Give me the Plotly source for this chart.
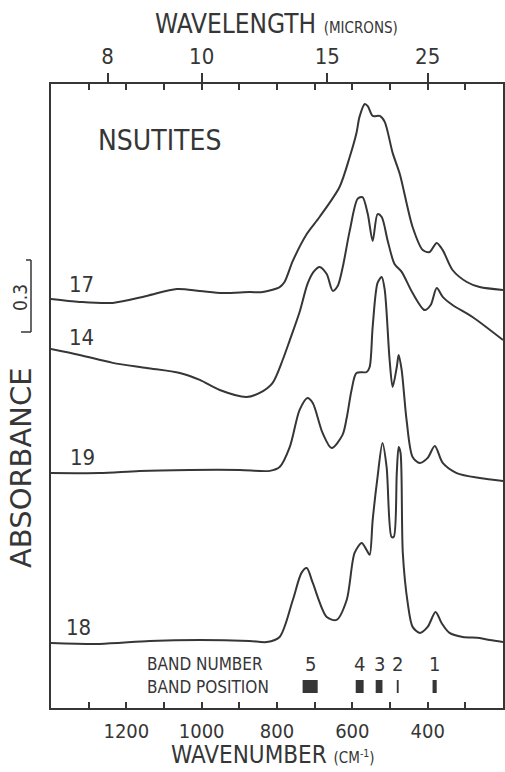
import plotly.graph_objects as go

# ---------------- data ----------------
# Wavenumber (cm-1) and stacked absorbance for each nsutite sample
wn_17 = [1400, 1324, 1236, 1146, 1066, 1005, 944, 873, 838, 793, 780, 758, 721, 687, 634, 607, 589, 581,
         567, 559, 546, 527, 514, 493, 474, 440, 413, 395, 376, 360, 334, 296, 262, 200]
ab_17 = [1.704, 1.692, 1.688, 1.717, 1.746, 1.738, 1.729, 1.733, 1.733, 1.754, 1.775, 1.863, 1.975, 2.046,
         2.171, 2.296, 2.396, 2.463, 2.517, 2.508, 2.467, 2.467, 2.442, 2.313, 2.225, 2.004, 1.908, 1.900,
         1.938, 1.908, 1.825, 1.775, 1.754, 1.742]

wn_14 = [1400, 1324, 1236, 1146, 1058, 1005, 952, 881, 846, 812, 785, 766, 740, 719, 703, 687, 668, 652,
         639, 626, 607, 586, 573, 559, 546, 533, 522, 506, 488, 469, 440, 408, 392, 376, 360, 334, 281, 200]
ab_14 = [1.496, 1.471, 1.438, 1.417, 1.396, 1.367, 1.325, 1.296, 1.313, 1.354, 1.450, 1.533, 1.650, 1.767,
         1.817, 1.838, 1.808, 1.738, 1.758, 1.833, 1.988, 2.121, 2.129, 2.058, 1.946, 2.058, 2.046, 1.946,
         1.850, 1.817, 1.729, 1.658, 1.679, 1.750, 1.713, 1.679, 1.629, 1.533]

wn_19 = [1400, 1271, 1165, 1032, 899, 819, 793, 766, 740, 719, 705, 679, 655, 626, 615, 602, 589, 562,
         554, 546, 533, 522, 514, 501, 493, 482, 477, 469, 456, 440, 421, 400, 381, 360, 323, 262, 200]
ab_19 = [0.979, 0.979, 0.988, 0.992, 0.992, 0.988, 1.004, 1.088, 1.242, 1.292, 1.271, 1.146, 1.083, 1.138,
         1.208, 1.325, 1.396, 1.400, 1.421, 1.588, 1.771, 1.796, 1.742, 1.450, 1.338, 1.421, 1.471, 1.408,
         1.200, 1.046, 1.021, 1.042, 1.092, 1.021, 0.979, 0.958, 0.946]

wn_18 = [1400, 1271, 1138, 1005, 873, 827, 793, 758, 735, 721, 705, 668, 642, 615, 594, 575, 562, 554,
         546, 533, 520, 509, 496, 490, 482, 477, 472, 466, 453, 440, 421, 400, 379, 363, 342, 307, 262,
         235, 200]
ab_18 = [0.271, 0.267, 0.279, 0.283, 0.279, 0.275, 0.296, 0.450, 0.563, 0.583, 0.521, 0.379, 0.367, 0.450,
         0.646, 0.688, 0.658, 0.638, 0.783, 0.963, 1.104, 1.004, 0.713, 0.713, 0.979, 1.088, 1.063, 0.646,
         0.438, 0.338, 0.313, 0.338, 0.400, 0.354, 0.313, 0.296, 0.292, 0.283, 0.275]

curves = [("17", wn_17, ab_17), ("14", wn_14, ab_14), ("19", wn_19, ab_19), ("18", wn_18, ab_18)]

# band assignments
band_numbers = ["5", "4", "3", "2", "1"]
band_lo = [692, 570, 520, 477, 376]   # cm-1
band_hi = [732, 591, 538, 482, 387]   # cm-1

# axes
wn_major = [1200, 1000, 800, 600, 400]
wn_minor = [1300, 1100, 900, 700, 500, 300]
micron_ticks = [8, 10, 15, 25]
scale_bar = 0.3

# ---------------- style ----------------
INK = "#363636"
FONT = "DejaVu Sans Condensed, DejaVu Sans, sans-serif"
L, R, T, B = 51, 2, 84, 64
W, H = 505, 772
PW, PH = W - L - R, H - T - B


def px(xp):
    return (xp - L) / PW


def py(yp):
    return (H - B - yp) / PH


fig = go.Figure()
for name, xs, ys in curves:
    fig.add_trace(go.Scatter(x=xs, y=ys, mode="lines", name=name,
                             line=dict(color=INK, width=2, shape="spline", smoothing=0.8),
                             hoverinfo="skip", showlegend=False))

# empty trace to activate top axis
fig.add_trace(go.Scatter(x=[], y=[], xaxis="x2", yaxis="y", showlegend=False, hoverinfo="skip"))

fig.update_layout(
    width=W, height=H,
    margin=dict(l=L, r=R, t=T, b=B, pad=0, autoexpand=False),
    paper_bgcolor="white", plot_bgcolor="white",
    font=dict(family=FONT, color=INK),
    xaxis=dict(range=[1400, 200], showgrid=False, zeroline=False, automargin=False,
               showline=True, linecolor=INK, linewidth=2, mirror="allticks",
               tickmode="array", tickvals=wn_major, ticktext=[str(v) for v in wn_major],
               ticks="inside", ticklen=6, tickwidth=1.5, tickcolor=INK,
               minor=dict(tickmode="array", tickvals=wn_minor, ticks="inside", ticklen=6,
                          tickwidth=1.5, tickcolor=INK, showgrid=False),
               tickfont=dict(size=20, family=FONT, color=INK), ticklabelstandoff=4),
    xaxis2=dict(range=[1400, 200], overlaying="x", side="top", anchor="y", automargin=False,
                showgrid=False, zeroline=False, showline=False,
                tickmode="array", tickvals=[1e4 / m for m in micron_ticks],
                ticktext=[str(m) for m in micron_ticks],
                ticks="outside", ticklen=10, tickwidth=1.5, tickcolor=INK,
                tickfont=dict(size=22, family=FONT, color=INK)),
    yaxis=dict(range=[0, 2.6], showgrid=False, zeroline=False, showticklabels=False,
               automargin=False,
               ticks="", showline=True, linecolor=INK, linewidth=2, mirror=True),
)

ann = []
# titles
ann.append(dict(text="WAVELENGTH <span style='font-size:15px'>(MICRONS)</span>",
                x=px(276), y=py(24), xref="paper", yref="paper", showarrow=False,
                xanchor="center", yanchor="middle", font=dict(size=26)))
ann.append(dict(text="WAVENUMBER <span style='font-size:15px'>(CM<sup>-1</sup>)</span>",
                x=px(273), y=py(771), xref="paper", yref="paper", showarrow=False,
                xanchor="center", yanchor="bottom", font=dict(size=24)))
ann.append(dict(text="NSUTITES", x=px(159), y=py(140), xref="paper", yref="paper",
                showarrow=False, xanchor="center", yanchor="middle", font=dict(size=28)))
ann.append(dict(text="ABSORBANCE", x=px(21), y=py(468), xref="paper", yref="paper",
                showarrow=False, textangle=-90, xanchor="center", yanchor="middle",
                font=dict(size=29, family="DejaVu Sans, sans-serif")))
ann.append(dict(text="0.3", x=px(20), y=py(298), xref="paper", yref="paper",
                showarrow=False, textangle=-90, xanchor="center", yanchor="middle",
                font=dict(size=19)))

# curve labels
label_pos = {"17": (81, 284), "14": (81, 337), "19": (82, 457), "18": (78, 627)}
for name, _, _ in curves:
    lx, ly = label_pos[name]
    ann.append(dict(text=name, x=px(lx), y=py(ly), xref="paper", yref="paper",
                    showarrow=False, xanchor="center", yanchor="middle", font=dict(size=22)))

# band legend
ann.append(dict(text="BAND NUMBER", x=px(145), y=py(664), xref="paper", yref="paper",
                showarrow=False, xanchor="left", yanchor="middle", font=dict(size=17)))
ann.append(dict(text="BAND POSITION", x=px(145), y=py(687), xref="paper", yref="paper",
                showarrow=False, xanchor="left", yanchor="middle", font=dict(size=17)))
shapes = []
for num, lo, hi in zip(band_numbers, band_lo, band_hi):
    ann.append(dict(text=num, x=(lo + hi) / 2, y=py(664), xref="x", yref="paper",
                    showarrow=False, xanchor="center", yanchor="middle", font=dict(size=20)))
    shapes.append(dict(type="rect", xref="x", yref="paper", x0=lo, x1=hi,
                       y0=py(693), y1=py(680), line=dict(width=0), fillcolor=INK))

# 0.3 absorbance scale bracket
y_lo = (H - B - 332) / PH * 2.6
shapes.append(dict(type="line", xref="paper", yref="y", x0=px(31), x1=px(31),
                   y0=y_lo, y1=y_lo + scale_bar, line=dict(color=INK, width=1.5)))
shapes.append(dict(type="line", xref="paper", yref="y", x0=px(26), x1=px(31),
                   y0=y_lo + scale_bar, y1=y_lo + scale_bar, line=dict(color=INK, width=1.5)))
shapes.append(dict(type="line", xref="paper", yref="y", x0=px(21), x1=px(31),
                   y0=y_lo, y1=y_lo, line=dict(color=INK, width=1.5)))

fig.update_layout(annotations=ann, shapes=shapes)
fig.write_html("out.html", config={"displayModeBar": False},
               post_script="document.body.style.margin='0';document.body.style.padding='0';")
